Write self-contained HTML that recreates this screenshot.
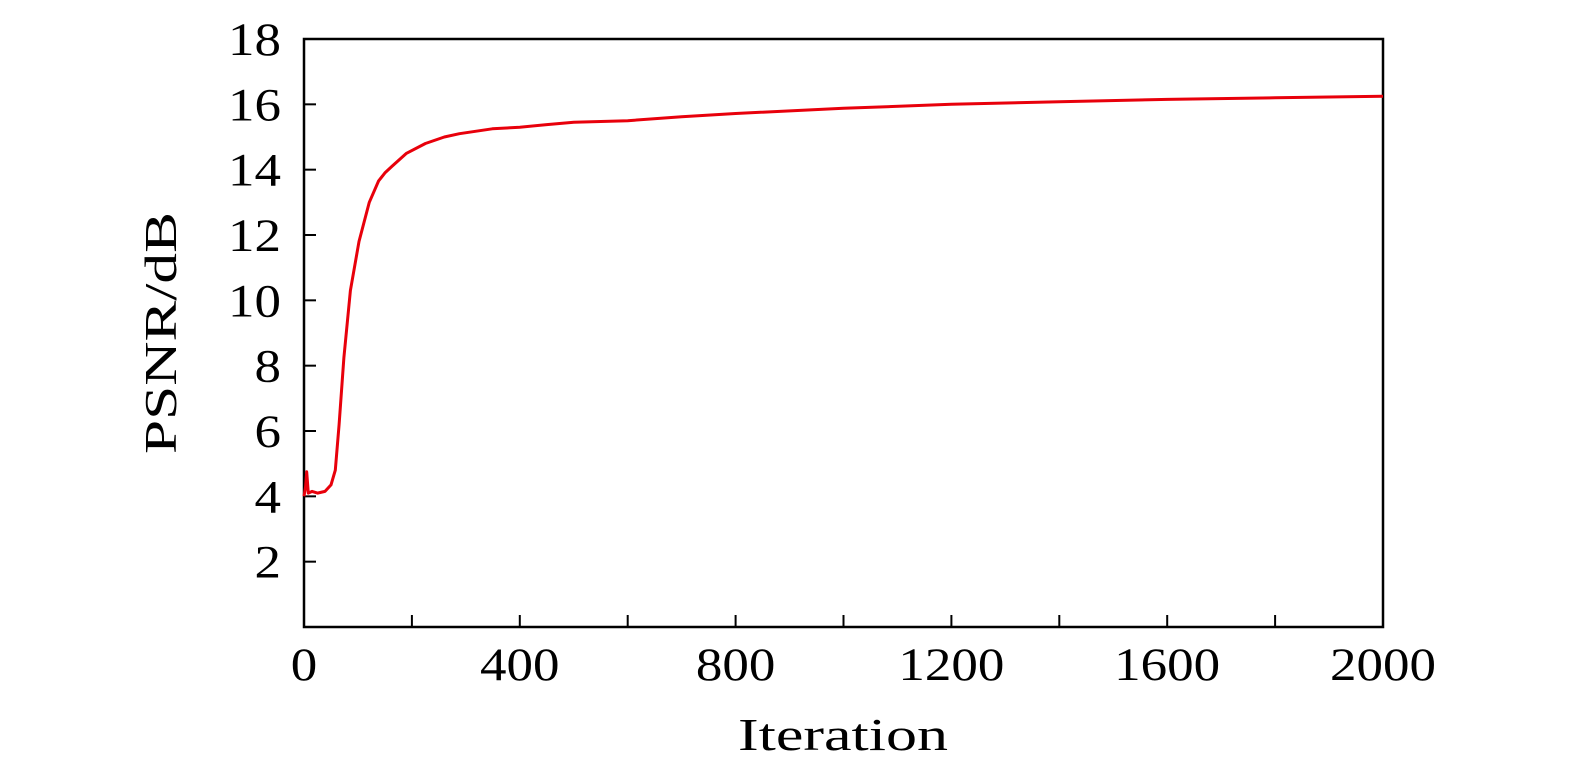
<!DOCTYPE html>
<html><head><meta charset="utf-8"><style>
html,body{margin:0;padding:0;background:#fff;}
svg text{font-family:"Liberation Serif",serif;fill:#000;}
</style></head><body>
<svg id="chart" width="1575" height="778" xmlns="http://www.w3.org/2000/svg">
<rect x="304" y="39" width="1079" height="588" fill="none" stroke="#000" stroke-width="2.5"/>
<g id="ticks"></g>
<g id="labels"></g>
<path id="line" fill="none" stroke="#e8000b" stroke-width="3" stroke-linejoin="round"/>
<text x="843" y="750" font-size="46" text-anchor="middle" textLength="210" lengthAdjust="spacingAndGlyphs">Iteration</text>
<text transform="translate(176,333) rotate(-90)" font-size="46" text-anchor="middle" textLength="242" lengthAdjust="spacingAndGlyphs">PSNR/dB</text>
</svg>
<script>
const iterations = [0,3,5,8,15,25,39,50,58,65,74,86,102,121,138,150,163,190,225,260,288,349,400,450,500,600,700,800,1000,1200,1400,1600,1800,2000];
const psnrValues = [4.0,4.3,4.75,4.1,4.15,4.1,4.15,4.35,4.8,6.2,8.25,10.3,11.8,13.0,13.65,13.9,14.1,14.5,14.8,15.0,15.1,15.25,15.3,15.38,15.45,15.5,15.62,15.72,15.88,16.0,16.08,16.15,16.2,16.25];
const xTicks = [0,200,400,600,800,1000,1200,1400,1600,1800,2000];
const xTickLabels = ["0","","400","","800","","1200","","1600","","2000"];
const yTicks = [2,4,6,8,10,12,14,16,18];
const yTickLabels = ["2","4","6","8","10","12","14","16","18"];
const X0=304,X1=1383,Y0=627,Y1=39;
const sx=v=>X0+(v/2000)*(X1-X0);
const sy=v=>Y0-(v/18)*(Y0-Y1);
const NS="http://www.w3.org/2000/svg";
const tg=document.getElementById('ticks'), lg=document.getElementById('labels');
xTicks.forEach((t,i)=>{
  const l=document.createElementNS(NS,'line');
  l.setAttribute('x1',sx(t));l.setAttribute('x2',sx(t));l.setAttribute('y1',Y0);l.setAttribute('y2',Y0-12);
  l.setAttribute('stroke','#000');l.setAttribute('stroke-width','2');
  
  
  tg.appendChild(l);
  if(xTickLabels[i]){
    const tx=document.createElementNS(NS,'text');
    tx.setAttribute('x',sx(t));tx.setAttribute('y',680);tx.setAttribute('font-size','47');tx.setAttribute('text-anchor','middle');
    tx.setAttribute('textLength',26.5*xTickLabels[i].length);tx.setAttribute('lengthAdjust','spacingAndGlyphs');
    tx.textContent=xTickLabels[i];
    
    
    lg.appendChild(tx);
  }
});
yTicks.forEach((t,i)=>{
  const l=document.createElementNS(NS,'line');
  l.setAttribute('x1',X0);l.setAttribute('x2',X0+12);l.setAttribute('y1',sy(t));l.setAttribute('y2',sy(t));
  l.setAttribute('stroke','#000');l.setAttribute('stroke-width','2');
  
  
  tg.appendChild(l);
  const tx=document.createElementNS(NS,'text');
  tx.setAttribute('x',281);tx.setAttribute('y',sy(t)+16);tx.setAttribute('font-size','47');tx.setAttribute('text-anchor','end');
  tx.setAttribute('textLength',26.5*yTickLabels[i].length);tx.setAttribute('lengthAdjust','spacingAndGlyphs');
  tx.textContent=yTickLabels[i];
  
  
  lg.appendChild(tx);
});
document.getElementById('line').setAttribute('d',iterations.map((v,i)=>(i?'L':'M')+sx(v).toFixed(1)+','+sy(psnrValues[i]).toFixed(1)).join(' '));
</script>
</body></html>
